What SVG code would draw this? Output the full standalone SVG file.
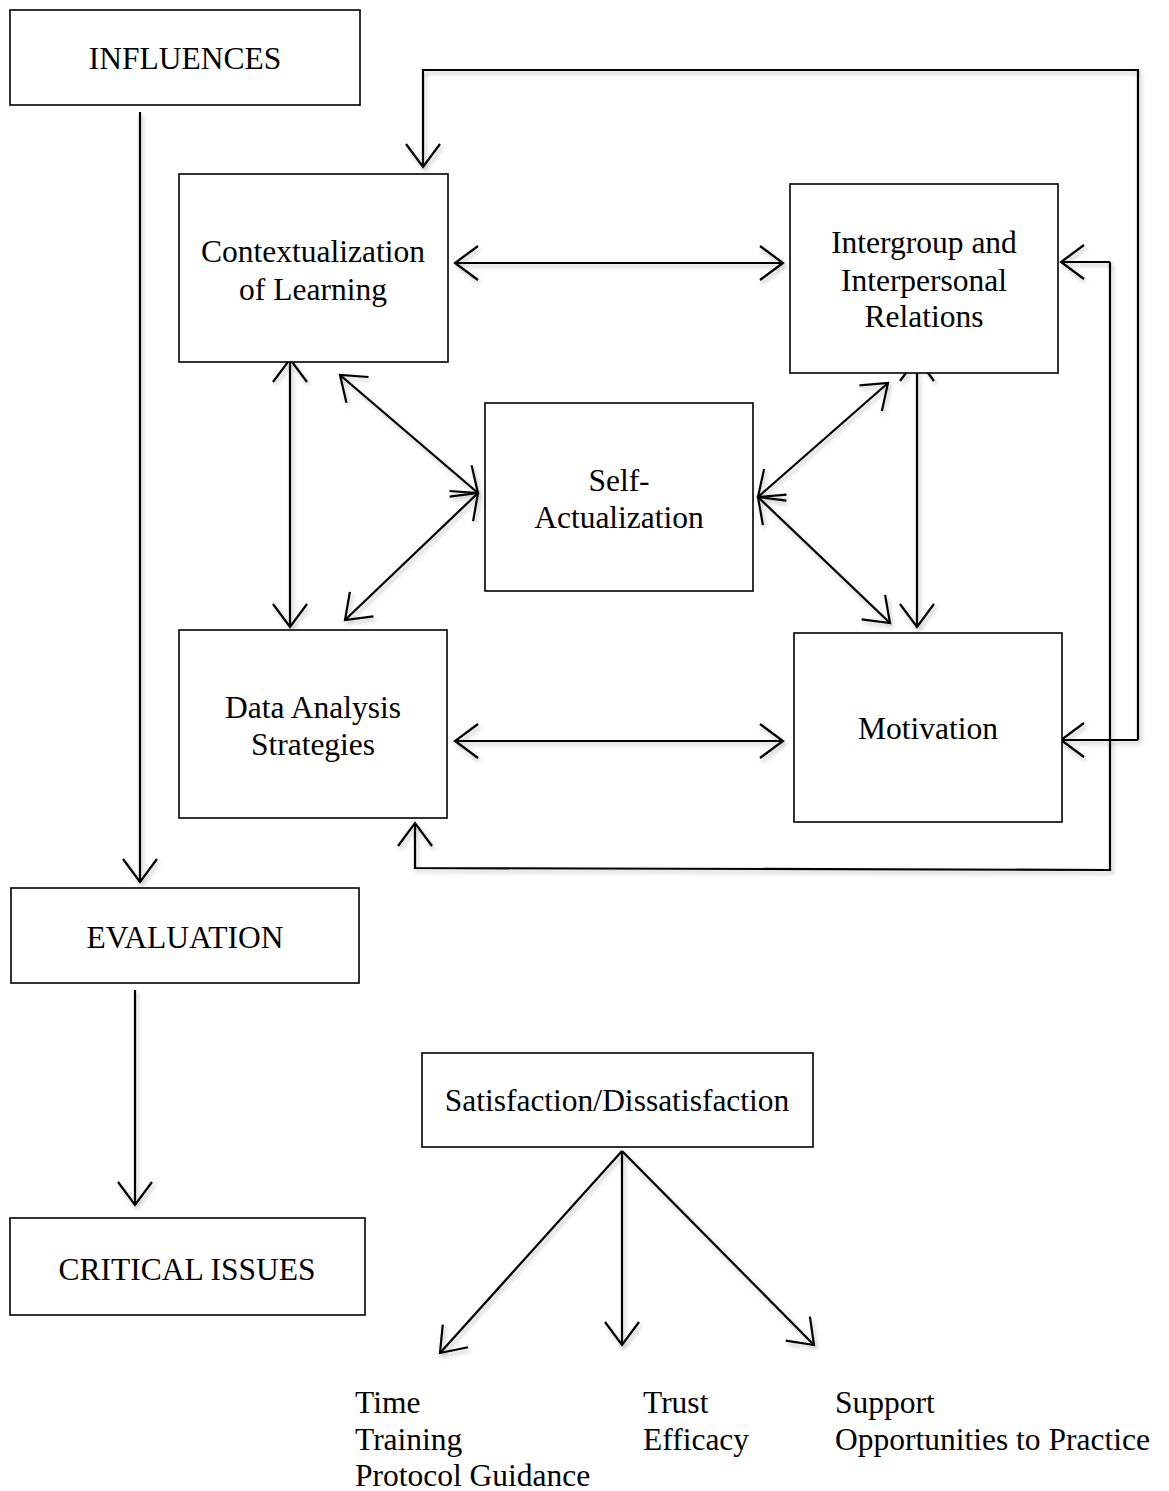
<svg xmlns="http://www.w3.org/2000/svg" width="1169" height="1491" viewBox="0 0 1169 1491">
<style>
  .box { fill: #fff; stroke: #000; stroke-width: 1.6; }
  .lbl { font-family: "Liberation Serif", "Times New Roman", serif; font-size: 31.5px; fill: #000; }
  .c { text-anchor: middle; }
  .ln { fill: none; stroke: #000; stroke-width: 2.2; stroke-linejoin: miter; }
</style>
<defs>
  <marker id="ah" markerUnits="userSpaceOnUse" markerWidth="40" markerHeight="40" viewBox="-30 -20 34 40" refX="0" refY="0" orient="auto-start-reverse">
    <path d="M-23,-17 L0,0 L-23,17" fill="none" stroke="#000" stroke-width="2.2"/>
  </marker>
  <filter id="sh" x="-5%" y="-5%" width="110%" height="110%">
    <feDropShadow dx="2" dy="3" stdDeviation="2" flood-color="#000" flood-opacity="0.25"/>
  </filter>
</defs>
<rect width="1169" height="1491" fill="#fff"/>

<g id="connectors" filter="url(#sh)">
  <line class="ln" x1="140" y1="112" x2="140" y2="882" marker-end="url(#ah)"/>
  <line class="ln" x1="135" y1="990" x2="135" y2="1205" marker-end="url(#ah)"/>
  <line class="ln" x1="455" y1="263" x2="783" y2="263" marker-start="url(#ah)" marker-end="url(#ah)"/>
  <line class="ln" x1="455" y1="741" x2="783" y2="741" marker-start="url(#ah)" marker-end="url(#ah)"/>
  <line class="ln" x1="290" y1="359" x2="290" y2="627" marker-start="url(#ah)" marker-end="url(#ah)"/>
  <line class="ln" x1="917" y1="358" x2="917" y2="627" marker-start="url(#ah)" marker-end="url(#ah)"/>
  <line class="ln" x1="340" y1="375" x2="478" y2="493" marker-start="url(#ah)" marker-end="url(#ah)"/>
  <line class="ln" x1="345" y1="620" x2="478" y2="493" marker-start="url(#ah)" marker-end="url(#ah)"/>
  <line class="ln" x1="888" y1="383" x2="758" y2="497" marker-start="url(#ah)" marker-end="url(#ah)"/>
  <line class="ln" x1="890" y1="623" x2="758" y2="497" marker-start="url(#ah)" marker-end="url(#ah)"/>
  <polyline class="ln" points="1138,740 1138,70 423,70 423,167" marker-end="url(#ah)"/>
  <line class="ln" x1="1138" y1="740" x2="1061" y2="740" marker-end="url(#ah)"/>
  <polyline class="ln" points="1110,262 1110,870 415,868 415,823" marker-end="url(#ah)"/>
  <line class="ln" x1="1110" y1="262" x2="1061" y2="262" marker-end="url(#ah)"/>
  <line class="ln" x1="622" y1="1151" x2="440" y2="1353" marker-end="url(#ah)"/>
  <line class="ln" x1="622" y1="1151" x2="622" y2="1345" marker-end="url(#ah)"/>
  <line class="ln" x1="622" y1="1151" x2="814" y2="1345" marker-end="url(#ah)"/>
</g>

<g id="influences">
  <rect class="box" x="10" y="10" width="350" height="95"/>
  <text class="lbl c" x="185" y="69">INFLUENCES</text>
</g>
<g id="contextualization">
  <rect class="box" x="179" y="174" width="269" height="188"/>
  <text class="lbl c" x="313" y="262">Contextualization</text>
  <text class="lbl c" x="313" y="300">of Learning</text>
</g>
<g id="intergroup">
  <rect class="box" x="790" y="184" width="268" height="189"/>
  <text class="lbl c" x="924" y="253">Intergroup and</text>
  <text class="lbl c" x="924" y="291">Interpersonal</text>
  <text class="lbl c" x="924" y="327">Relations</text>
</g>
<g id="self-actualization">
  <rect class="box" x="485" y="403" width="268" height="188"/>
  <text class="lbl c" x="619" y="491">Self-</text>
  <text class="lbl c" x="619" y="528">Actualization</text>
</g>
<g id="data-analysis">
  <rect class="box" x="179" y="630" width="268" height="188"/>
  <text class="lbl c" x="313" y="718">Data Analysis</text>
  <text class="lbl c" x="313" y="755">Strategies</text>
</g>
<g id="motivation">
  <rect class="box" x="794" y="633" width="268" height="189"/>
  <text class="lbl c" x="928" y="739">Motivation</text>
</g>
<g id="evaluation">
  <rect class="box" x="11" y="888" width="348" height="95"/>
  <text class="lbl c" x="185" y="948">EVALUATION</text>
</g>
<g id="satisfaction">
  <rect class="box" x="422" y="1053" width="391" height="94"/>
  <text class="lbl c" x="617" y="1111">Satisfaction/Dissatisfaction</text>
</g>
<g id="critical-issues">
  <rect class="box" x="10" y="1218" width="355" height="97"/>
  <text class="lbl c" x="187" y="1280">CRITICAL ISSUES</text>
</g>
<g id="list-left">
  <text class="lbl" x="355" y="1413">Time</text>
  <text class="lbl" x="355" y="1450">Training</text>
  <text class="lbl" x="355" y="1486">Protocol Guidance</text>
</g>
<g id="list-middle">
  <text class="lbl" x="643" y="1413">Trust</text>
  <text class="lbl" x="643" y="1450">Efficacy</text>
</g>
<g id="list-right">
  <text class="lbl" x="835" y="1413">Support</text>
  <text class="lbl" x="835" y="1450">Opportunities to Practice</text>
</g>
</svg>
